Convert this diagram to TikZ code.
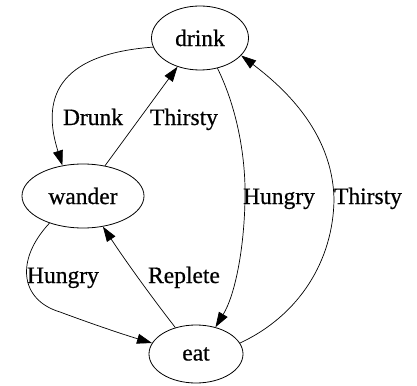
\documentclass[tikz,border=0pt]{standalone}
\usepackage{fontspec}
\setmainfont{Liberation Serif}[FakeBold=0.6]
\usetikzlibrary{shapes.geometric,arrows.meta}
\begin{document}
\begin{tikzpicture}[x=1pt,y=-1pt,
  state/.style={ellipse,draw,line width=0.8pt,inner sep=0pt,font=\fontsize{23.5}{26}\selectfont},
  lbl/.style={anchor=base,inner sep=0pt,font=\fontsize{23.5}{26}\selectfont},
  edge/.style={line width=0.7pt,-{Triangle[length=15pt,width=10pt]}}]
\useasboundingbox (0,0) rectangle (417,385);
\node[state,minimum width=97pt,minimum height=64pt] (drink) at (200,38) {drink};
\node[state,minimum width=122pt,minimum height=64pt] (wander) at (83,196) {wander};
\node[state,minimum width=94pt,minimum height=58pt] (eat) at (196,354) {eat};
% Drunk
\draw[edge] (drink.191) .. controls (45,55) and (45,110) .. (wander.124);
% Thirsty wander->drink
\draw[edge] (wander.54) -- (drink.232);
% Hungry drink->eat
\draw[edge] (drink.300) .. controls (238,110) and (246,160) .. (245,200)
   .. controls (244,250) and (235,295) .. (eat.54);
% Thirsty eat->drink
\draw[edge] (eat.14) .. controls (300,315) and (333,260) .. (334,200)
   .. controls (333,130) and (280,85) .. (drink.337);
% Hungry wander->eat
\draw[edge] (wander.219) .. controls (15,260) and (20,300) .. (60,312)
   .. controls (95,325) and (125,335) .. (eat.166);
% Replete eat->wander
\draw[edge] (eat.128) .. controls (150,295) and (125,260) .. (wander.303);
\node[lbl] (l1) at (93,125) {Drunk};
\node[lbl] (l2) at (184,125) {Thirsty};
\node[lbl] (l3) at (279,204) {Hungry};
\node[lbl] (l4) at (368,204) {Thirsty};
\node[lbl] (l5) at (63,283) {Hungry};
\node[lbl] (l6) at (184,283) {Replete};
\end{tikzpicture}
\end{document}
